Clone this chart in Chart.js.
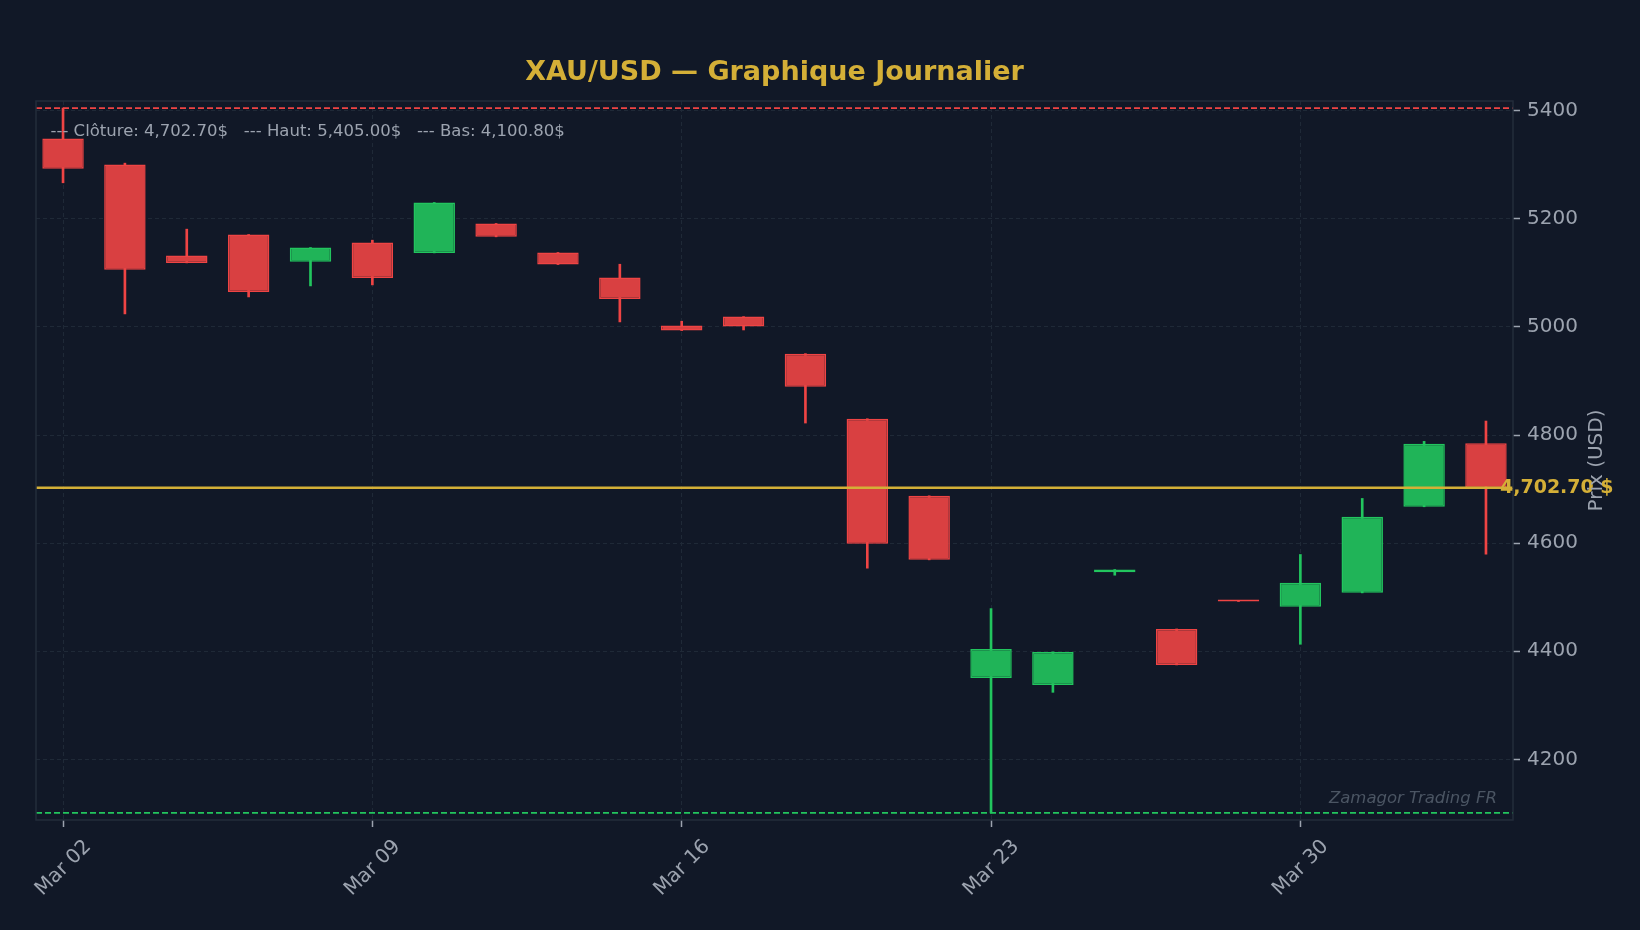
<!DOCTYPE html>
<html>
<head>
<meta charset="utf-8">
<title>XAU/USD — Graphique Journalier</title>
<script src="https://cdn.jsdelivr.net/npm/chart.js@4.4.1/dist/chart.umd.min.js"></script>
<style>
    html, body { margin: 0; padding: 0; background: #111827; }
    #chart { display: block; }
</style>
</head>
<body>
<canvas id="chart" width="1640" height="930"></canvas>
<script>
// Daily candles (trading days only)
const dates = ['Mar 02', 'Mar 03', 'Mar 04', 'Mar 05', 'Mar 06',
               'Mar 09', 'Mar 10', 'Mar 11', 'Mar 12', 'Mar 13',
               'Mar 16', 'Mar 17', 'Mar 18', 'Mar 19', 'Mar 20',
               'Mar 23', 'Mar 24', 'Mar 25', 'Mar 26', 'Mar 27',
               'Mar 30', 'Mar 31', 'Apr 01', 'Apr 02'];
const opens  = [5348.8, 5300.6, 5132.1, 5171.0, 5120.4, 5156.2, 5137.0, 5191.4, 5137.7, 5091.4,
                5002.5, 5019.1, 4950.6, 4830.2, 4687.6, 4350.6, 4337.7, 4546.3, 4441.3, 4493.0,
                4482.1, 4508.0, 4667.3, 4784.6];
const highs  = [5405.0, 5303.0, 5180.9, 5171.0, 5146.9, 5160.5, 5230.2, 5191.4, 5137.7, 5116.0,
                5010.5, 5019.1, 4950.6, 4830.2, 4687.6, 4478.9, 4398.8, 4551.2, 4441.3, 4493.0,
                4579.0, 4682.7, 4788.3, 4825.9];
const lows   = [5266.7, 5024.1, 5118.5, 5055.5, 5075.9, 5077.8, 5137.0, 5166.7, 5115.4, 5009.3,
                4993.2, 4994.4, 4822.2, 4553.7, 4569.1, 4100.8, 4324.0, 4540.7, 4374.7, 4492.0,
                4412.9, 4508.0, 4667.3, 4579.6];
const closes = [5292.6, 5105.6, 5118.5, 5064.8, 5146.9, 5090.7, 5230.2, 5166.7, 5115.4, 5051.9,
                4993.2, 5000.6, 4889.5, 4598.8, 4569.1, 4404.3, 4398.8, 4551.2, 4374.7, 4492.0,
                4526.5, 4648.8, 4784.0, 4702.7];

const dateTicks = [0, 5, 10, 15, 20];
const priceTicks = [4200, 4400, 4600, 4800, 5000, 5200, 5400];

const lastClose = 4702.70;
const periodHigh = 5405.00;
const periodLow = 4100.80;

const BG = '#111827';
const UP = '#22c55e';
const DOWN = '#ef4444';
const UP_FILL = '#20b458';
const DOWN_FILL = '#d94041';
const GOLD = '#d4af37';
const TEXT = '#9ca3af';
const GRID = '#1f2937';
const FONT = "'DejaVu Sans', sans-serif";

Chart.defaults.font.family = FONT;

const isUp = i => closes[i] >= opens[i];
const edge = dates.map((d, i) => isUp(i) ? UP : DOWN);
const fill = dates.map((d, i) => isUp(i) ? UP_FILL : DOWN_FILL);

const fmt = v => v.toLocaleString('en-US', { minimumFractionDigits: 2, maximumFractionDigits: 2 });

// Background, reference lines, frame and free texts
const decor = {
    id: 'decor',
    beforeDraw(chart) {
        const ctx = chart.ctx;
        ctx.save();
        ctx.fillStyle = BG;
        ctx.fillRect(0, 0, chart.width, chart.height);
        ctx.restore();
    },
    afterDatasetsDraw(chart) {
        const { ctx, chartArea: a, scales: { y } } = chart;
        const hline = (v, color, width, dash) => {
            const py = y.getPixelForValue(v);
            ctx.save();
            ctx.beginPath();
            ctx.rect(a.left, a.top, a.right - a.left, a.bottom - a.top);
            ctx.clip();
            ctx.strokeStyle = color;
            ctx.lineWidth = width;
            ctx.setLineDash(dash);
            ctx.beginPath();
            ctx.moveTo(a.left, py);
            ctx.lineTo(a.right, py);
            ctx.stroke();
            ctx.restore();
        };
        hline(periodHigh, DOWN, 1.8, [6, 3]);
        hline(periodLow, UP, 1.8, [6, 3]);
        hline(lastClose, GOLD, 2.5, []);
    },
    afterDraw(chart) {
        const { ctx, chartArea: a, scales: { y } } = chart;
        ctx.save();

        // frame
        ctx.strokeStyle = '#232c3b';
        ctx.lineWidth = 1.5;
        ctx.strokeRect(a.left, a.top, a.right - a.left, a.bottom - a.top);

        // title
        ctx.fillStyle = GOLD;
        ctx.font = 'bold 27px ' + FONT;
        ctx.textAlign = 'center';
        ctx.textBaseline = 'alphabetic';
        ctx.fillText('XAU/USD — Graphique Journalier', (a.left + a.right) / 2, 80);

        // summary line
        ctx.fillStyle = TEXT;
        ctx.font = '16.5px ' + FONT;
        ctx.textAlign = 'left';
        ctx.fillText('--- Clôture: ' + fmt(lastClose) + '$   --- Haut: ' + fmt(periodHigh) +
                     '$   --- Bas: ' + fmt(periodLow) + '$', 50.5, 136);

        // watermark
        ctx.fillStyle = '#4b5563';
        ctx.font = 'italic 16.5px ' + FONT;
        ctx.textAlign = 'right';
        ctx.fillText('Zamagor Trading FR', 1497, 803);

        // last close label
        ctx.fillStyle = GOLD;
        ctx.font = 'bold 19px ' + FONT;
        ctx.textAlign = 'left';
        ctx.textBaseline = 'middle';
        ctx.fillText(fmt(lastClose) + ' $', 1500, y.getPixelForValue(lastClose));

        // y axis title
        ctx.translate(1597, (a.top + a.bottom) / 2);
        ctx.rotate(-Math.PI / 2);
        ctx.fillStyle = TEXT;
        ctx.font = '20px ' + FONT;
        ctx.textAlign = 'center';
        ctx.textBaseline = 'middle';
        ctx.fillText('Prix (USD)', 0, 0);

        ctx.restore();
    }
};

new Chart(document.getElementById('chart'), {
    type: 'bar',
    data: {
        datasets: [{
            label: 'Corps',
            data: dates.map((d, i) => ({ x: i, y: [opens[i], closes[i]] })),
            backgroundColor: fill,
            borderColor: edge,
            borderWidth: 1.5,
            borderSkipped: false,
            barPercentage: 0.67,
            categoryPercentage: 1,
            minBarLength: 2,
            grouped: false,
            order: 0
        }, {
            label: 'Mèches',
            data: dates.map((d, i) => ({ x: i, y: [lows[i], highs[i]] })),
            backgroundColor: edge,
            borderWidth: 0,
            barThickness: 2,
            grouped: false,
            order: 1
        }]
    },
    options: {
        responsive: false,
        animation: false,
        layout: { padding: { left: 36, top: 101, right: 0, bottom: 0 } },
        plugins: {
            legend: { display: false },
            title: { display: false },
            tooltip: { enabled: false }
        },
        scales: {
            x: {
                type: 'linear',
                offset: false,
                min: -0.437,
                max: 23.437,
                afterBuildTicks: axis => { axis.ticks = dateTicks.map(v => ({ value: v })); },
                afterFit: axis => { axis.height = 110; },
                grid: { offset: false, color: GRID, lineWidth: 1, tickLength: 7, tickColor: TEXT, tickWidth: 1.5 },
                border: { display: false, dash: [4, 3] },
                ticks: {
                    autoSkip: false,
                    maxRotation: 45,
                    minRotation: 45,
                    padding: 8,
                    labelOffset: 25,
                    color: TEXT,
                    font: { size: 20 },
                    callback: v => dates[v]
                }
            },
            y: {
                position: 'right',
                min: 4087.8,
                max: 5418.0,
                afterBuildTicks: axis => { axis.ticks = priceTicks.map(v => ({ value: v })); },
                afterFit: axis => { axis.width = 127; },
                grid: { color: GRID, lineWidth: 1, tickLength: 7, tickColor: TEXT, tickWidth: 1.5 },
                border: { display: false, dash: [4, 3] },
                ticks: {
                    padding: 7,
                    color: TEXT,
                    font: { size: 20 },
                    callback: v => String(v)
                }
            }
        }
    },
    plugins: [decor]
});
</script>
</body>
</html>
